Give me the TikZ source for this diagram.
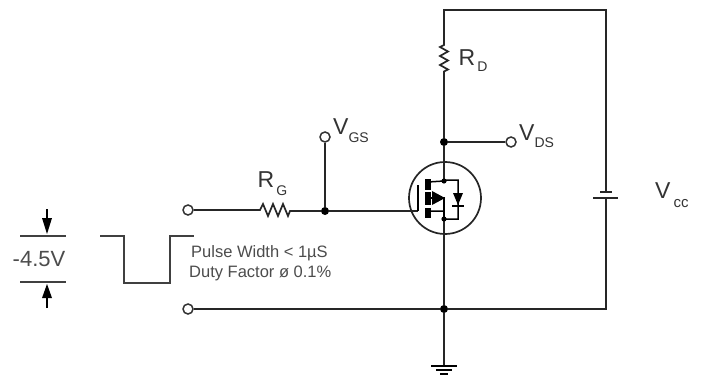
\documentclass[tikz,border=0pt]{standalone}
\usepackage{fontspec}
\setmainfont{Liberation Sans}
\begin{document}
\begin{tikzpicture}[x=1pt,y=-1pt,
  wire/.style={line width=1.7pt,draw=black!85},
  term/.style={circle,draw=black!80,line width=1.5pt,fill=white,inner sep=0pt,minimum size=10pt},
  dotn/.style={circle,fill=black,inner sep=0pt,minimum size=8pt},
  lab/.style={inner sep=0pt,anchor=base west,text=black!80,font=\fontsize{23}{23}\selectfont},
  note/.style={inner sep=0pt,anchor=base west,text=black!70,font=\fontsize{16.5}{18}\selectfont}]
\useasboundingbox (0,0) rectangle (704,377);
% coordinates
\coordinate (tl) at (444,10); \coordinate (tr) at (606,10);
\coordinate (capT) at (606,192); \coordinate (capB) at (606,198);
\coordinate (br) at (606,309);
\coordinate (rdT) at (444,42); \coordinate (rdB) at (444,75);
\node[dotn] (nD) at (444,142) {};
\node[term] (tDS) at (511,142) {};
\node[term] (tGS) at (325,137) {};
\node[dotn] (nG) at (325,211) {};
\node[term] (tIn) at (188,210) {};
\node[term] (tLo) at (188,309) {};
\node[dotn] (nS) at (444,309) {};
\coordinate (rgL) at (258,210); \coordinate (rgR) at (292,211);
\coordinate (gnd) at (444,366);
\node[circle,draw=black!85,line width=1.7pt,inner sep=0pt,minimum size=72pt] (Q) at (445,198) {};
\coordinate (dr) at (444,181); \coordinate (so) at (444,219);
\coordinate (gate) at (418,211);
% supply loop
\draw[wire] (rdT) -- (tl) -- (tr) -- (capT);
\draw[wire] (capB) -- (br) -- (nS);
\draw[wire] (600,192) -- (612,192);
\draw[wire] (593,198) -- (618,198);
% drain resistor
\draw[wire] (rdT) -- ++(0,3) -- ++(-4,2) -- ++(8,4.5) -- ++(-8,4.5) -- ++(8,4.5) -- ++(-8,4.5) -- ++(8,4.5) -- ++(-4,2) -- (rdB);
\draw[wire] (rdB) -- (nD);
\draw[wire] (nD) -- (tDS);
\draw[wire] (nD) -- (dr);
\draw[wire] (so) -- (nS) -- (gnd);
% gate
\draw[wire] (tIn) -- (rgL) -- ++(2,0) -- ++(3,-6) -- ++(5,12) -- ++(5,-12) -- ++(5,12) -- ++(5,-12) -- ++(5,12) -- ++(2,-5) -- (rgR);
\draw[wire] (rgR) -- (nG) -- (gate);
\draw[wire] (tGS) -- (nG);
\draw[wire] (tLo) -- (nS);
% mosfet
\draw[line width=1.5pt] (418,185) -- (gate);
\draw[line width=6pt] (428,179) -- (428,190);
\draw[line width=6pt] (428,192) -- (428,205);
\draw[line width=6pt] (428,208) -- (428,218);
\draw[line width=1.5pt] (428,182) -- (dr) -- (444,180) -- (458,180) -- (458,219) -- (so) -- (444,211) -- (428,211);
\draw[line width=1.5pt] (428,198) -- (444,198) -- (444,219);
\fill (432,191) -- (445,198) -- (432,205) -- cycle;
\fill (453,193) -- (463,193) -- (458,205) -- cycle;
\draw[line width=1.5pt] (452,206) -- (464,206);
\fill (dr) circle (2.6pt); \fill (so) circle (2.6pt);
% ground
\draw[line width=1.7pt] (431,366) -- (457,366);
\draw[line width=1.7pt] (436,370) -- (452,370);
\draw[line width=1.7pt] (440,374) -- (448,374);
% pulse
\draw[wire,draw=black!75,line width=1.9pt] (100,236) -- (124,236) -- (124,283) -- (170,283) -- (170,236) -- (194,236);
% amplitude marks
\coordinate (a1) at (47,209);
\coordinate (b1) at (47,308);
\draw[wire,draw=black!75] (20,236) -- (66,236);
\draw[wire,draw=black!75] (20,282) -- (66,282);
\draw[line width=1.5pt] (a1) -- (47,220);
\fill (42,218) -- (52,218) -- (47,234) -- cycle;
\draw[line width=1.5pt] (b1) -- (47,296);
\fill (42,298) -- (52,298) -- (47,284) -- cycle;
% labels
\node[inner sep=0pt,anchor=base,text=black!70,font=\fontsize{22}{22}\selectfont] (amp) at (39,266) {-4.5V};
\node[note] (n1) at (191,257) {Pulse Width < 1µS};
\node[note] (n2) at (189,277) {Duty Factor ø 0.1\%};
\node[lab] (lRD) at (458.5,66) {R\kern2pt\raisebox{-6pt}{\fontsize{14}{14}\selectfont D}};
\node[lab] (lGS) at (333,135) {V\kern0pt\raisebox{-8pt}{\fontsize{14}{14}\selectfont GS}};
\node[lab] (lDS) at (519,140) {V\kern0pt\raisebox{-7pt}{\fontsize{14}{14}\selectfont DS}};
\node[lab] (lRG) at (257.5,187) {R\kern2pt\raisebox{-8pt}{\fontsize{14}{14}\selectfont G}};
\node[lab] (lCC) at (655,198) {V\kern3pt\raisebox{-9pt}{\fontsize{15}{15}\selectfont cc}};
\end{tikzpicture}
\end{document}
